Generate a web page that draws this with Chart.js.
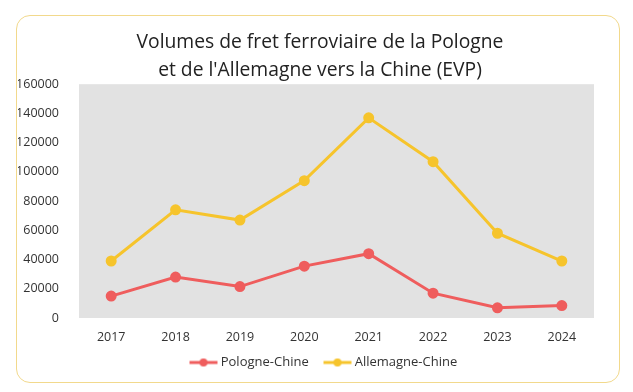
<!DOCTYPE html>
<html>
<head>
<meta charset="utf-8">
<script src="https://cdn.jsdelivr.net/npm/chart.js@4.4.0/dist/chart.umd.min.js"></script>
<style>
  html, body { margin: 0; padding: 0; background: #fff; }
  #wrap { position: relative; width: 633px; height: 392px; }
  #card {
    position: absolute; left: 16px; top: 15px; width: 602px; height: 366px;
    border: 1.5px solid #f2d98c; border-radius: 14px;
  }
  #chart { position: absolute; left: 0; top: 0; }
</style>
</head>
<body>
<div id="wrap">
  <div id="card"></div>
  <canvas id="chart" width="633" height="392"></canvas>
</div>
<script>
const years = ["2017", "2018", "2019", "2020", "2021", "2022", "2023", "2024"];
const pologneChine = [15000, 28000, 21500, 35500, 44000, 17000, 7000, 8500];
const allemagneChine = [39000, 74000, 67000, 94000, 137000, 107000, 58000, 39000];

const RED = "#ef5d5d";
const YELLOW = "#f6c42c";

// petite image "ligne + point" pour la légende (marge transparente à gauche)
function legendIcon(color) {
  const c = document.createElement("canvas");
  c.width = 40;
  c.height = 10;
  const g = c.getContext("2d");
  g.strokeStyle = color;
  g.lineWidth = 3;
  g.beginPath();
  g.moveTo(11, 5);
  g.lineTo(39, 5);
  g.stroke();
  g.fillStyle = color;
  g.beginPath();
  g.arc(25, 5, 4, 0, Math.PI * 2);
  g.fill();
  return c;
}

const plotBackground = {
  id: "plotBackground",
  beforeDraw(chart) {
    const { ctx, chartArea } = chart;
    ctx.save();
    ctx.fillStyle = "#e2e2e2";
    ctx.fillRect(chartArea.left, chartArea.top, chartArea.width, chartArea.height);
    ctx.restore();
  }
};

Chart.defaults.font.family = "'Open Sans', sans-serif";
Chart.defaults.color = "#333";

new Chart(document.getElementById("chart"), {
  type: "line",
  data: {
    labels: years,
    datasets: [
      {
        label: "Pologne-Chine",
        data: pologneChine,
        borderColor: RED,
        backgroundColor: RED,
        borderWidth: 3,
        pointRadius: 4,
        tension: 0
      },
      {
        label: "Allemagne-Chine",
        data: allemagneChine,
        borderColor: YELLOW,
        backgroundColor: YELLOW,
        borderWidth: 3,
        pointRadius: 4,
        tension: 0
      }
    ]
  },
  options: {
    responsive: false,
    animation: false,
    layout: {
      padding: { left: 18, right: 11, top: 29, bottom: 13 }
    },
    plugins: {
      title: {
        display: true,
        text: ["Volumes de fret ferroviaire de la Pologne", "et de l'Allemagne vers la Chine (EVP)"],
        color: "#222",
        font: { size: 19.3, weight: "normal", lineHeight: 1.43 },
        padding: { top: 0, bottom: 0 }
      },
      legend: {
        position: "bottom",
        labels: {
          usePointStyle: true,
          pointStyleWidth: 31.5,
          color: "#333",
          font: { size: 13 },
          padding: 8,
          generateLabels(chart) {
            return chart.data.datasets.map((ds, i) => ({
              text: ds.label,
              fillStyle: ds.borderColor,
              strokeStyle: ds.borderColor,
              pointStyle: legendIcon(ds.borderColor),
              fontColor: "#333",
              lineWidth: 0,
              datasetIndex: i,
              hidden: false
            }));
          }
        }
      },
      tooltip: { enabled: false }
    },
    scales: {
      x: {
        offset: true,
        grid: { display: false },
        border: { display: false },
        afterFit(scale) { scale.height = 30; },
        ticks: { color: "#333", font: { size: 12.5 }, padding: 4 }
      },
      y: {
        min: 0,
        max: 160000,
        grid: { display: false },
        border: { display: false },
        afterFit(scale) { scale.width = 61; },
        ticks: {
          stepSize: 20000,
          color: "#333",
          font: { size: 12.5 },
          padding: 12,
          callback: (v) => String(v)
        }
      },
      // axe vide à droite, juste pour recentrer titre et légende
      yRight: {
        position: "right",
        min: 0,
        max: 1,
        grid: { display: false },
        border: { display: false },
        ticks: { display: false },
        afterFit(scale) { scale.width = 28; }
      }
    }
  },
  plugins: [plotBackground]
});
</script>
</body>
</html>
